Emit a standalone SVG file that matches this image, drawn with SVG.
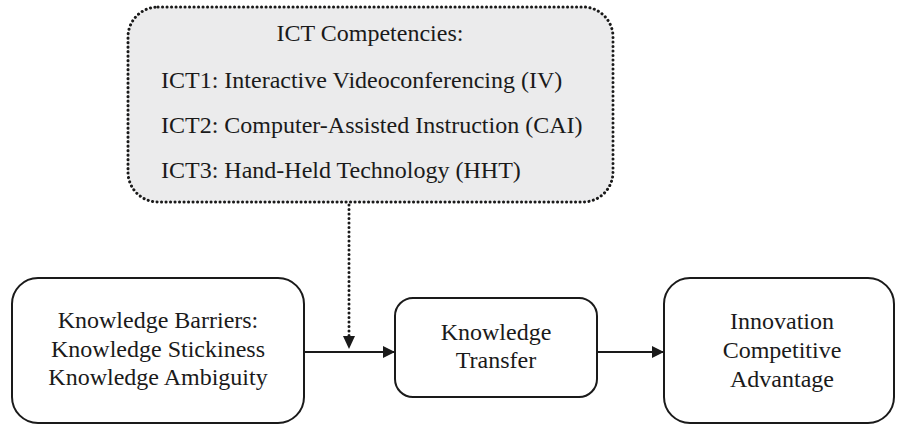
<svg xmlns="http://www.w3.org/2000/svg" width="897" height="425" viewBox="0 0 897 425">
  <style>
    .box { fill: #ffffff; stroke: #1a1a1a; stroke-width: 2; }
    .ict { fill: #ebebec; stroke: #1a1a1a; stroke-width: 3; stroke-dasharray: 0.1 4.4; stroke-linecap: round; }
    .lbl { font-family: "Liberation Serif", "Times New Roman", serif; font-size: 24px; fill: #1a1a1a; }
    .mid { text-anchor: middle; }
    .link { fill: none; stroke: #1a1a1a; stroke-width: 2.2; }
    .dot { fill: none; stroke: #1a1a1a; stroke-width: 3; stroke-dasharray: 0.1 4.4; stroke-linecap: round; }
  </style>
  <defs>
    <marker id="arrow" viewBox="0 0 12 12" refX="12" refY="6" markerWidth="12" markerHeight="12" markerUnits="userSpaceOnUse" orient="auto">
      <path d="M0,0 L12,6 L0,12 Z" fill="#1a1a1a"/>
    </marker>
  </defs>

  <g id="ict-competencies">
    <rect class="ict" x="128" y="7" width="485" height="195" rx="30" ry="30"/>
    <text class="lbl mid" x="370" y="41">ICT Competencies:</text>
    <text class="lbl" x="161" y="88">ICT1: Interactive Videoconferencing (IV)</text>
    <text class="lbl" x="161" y="133">ICT2: Computer-Assisted Instruction (CAI)</text>
    <text class="lbl" x="161" y="178">ICT3: Hand-Held Technology (HHT)</text>
  </g>

  <g id="knowledge-barriers">
    <rect class="box" x="12" y="278" width="292" height="145" rx="26" ry="26"/>
    <text class="lbl mid" x="158" y="328">Knowledge Barriers:</text>
    <text class="lbl mid" x="158" y="357">Knowledge Stickiness</text>
    <text class="lbl mid" x="158" y="385">Knowledge Ambiguity</text>
  </g>

  <g id="knowledge-transfer">
    <rect class="box" x="395" y="298" width="202" height="99" rx="18" ry="18"/>
    <text class="lbl mid" x="496" y="340">Knowledge</text>
    <text class="lbl mid" x="496" y="368">Transfer</text>
  </g>

  <g id="innovation">
    <rect class="box" x="664" y="278" width="230" height="145" rx="26" ry="26"/>
    <text class="lbl mid" x="782" y="329">Innovation</text>
    <text class="lbl mid" x="782" y="358">Competitive</text>
    <text class="lbl mid" x="782" y="387">Advantage</text>
  </g>

  <g id="connectors">
    <line class="link" x1="304" y1="352" x2="395" y2="352" marker-end="url(#arrow)"/>
    <line class="link" x1="597" y1="352" x2="664" y2="352" marker-end="url(#arrow)"/>
    <line class="dot" x1="349" y1="205" x2="349" y2="337"/>
    <path d="M343,336 L355,336 L349,349 Z" fill="#1a1a1a"/>
  </g>
</svg>
